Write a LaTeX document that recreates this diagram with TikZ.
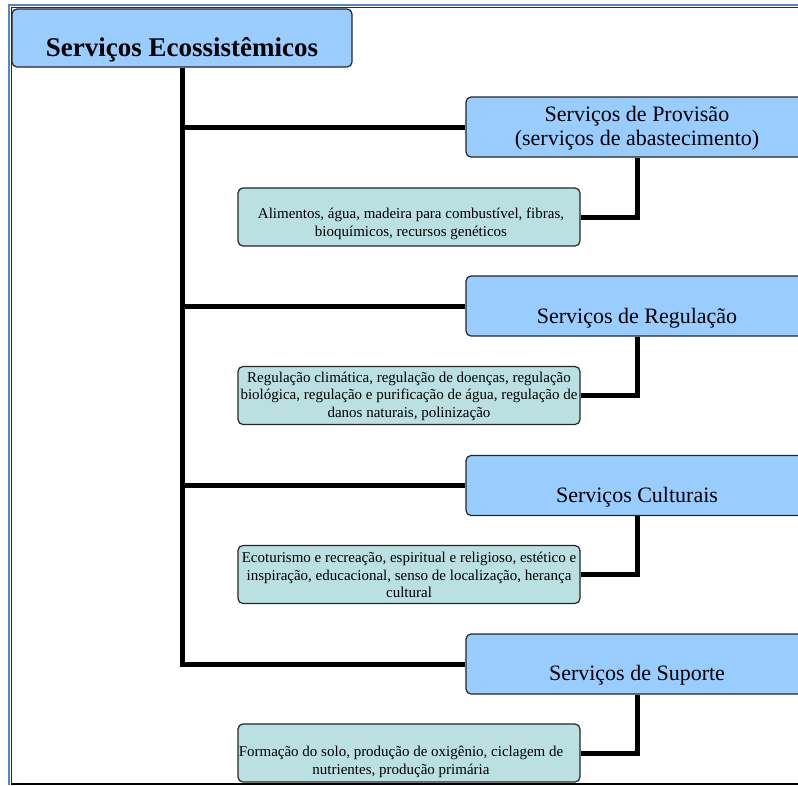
\documentclass[tikz,border=0pt]{standalone}
\usepackage{fontspec}
\setmainfont{Liberation Serif}
\definecolor{headblue}{RGB}{153,204,255}
\definecolor{itemgreen}{RGB}{186,224,226}
\definecolor{framblue}{RGB}{84,135,200}
\definecolor{framdark}{RGB}{30,45,80}

\begin{document}
\begin{tikzpicture}[x=1pt,y=-1pt,
  box/.style={draw=black!85,line width=1.2pt,rounded corners=5pt,inner sep=0pt},
  rootbox/.style={box,fill=headblue,minimum width=340pt,minimum height=58pt},
  headbox/.style={box,fill=headblue,minimum width=342pt,minimum height=60pt},
  itembox/.style={box,fill=itemgreen,minimum width=342pt,minimum height=58pt},
  roottext/.style={font=\fontsize{27}{30}\selectfont\bfseries,inner sep=0pt},
  headtext/.style={font=\fontsize{22}{24}\selectfont,align=center,inner sep=0pt},
  itemtext/.style={font=\fontsize{15}{17.5}\selectfont,align=center,inner sep=0pt},
  link/.style={line width=5pt,black}]
\useasboundingbox (0,0) rectangle (798,785);
\clip (0,0) rectangle (798,785);
\fill [white] (0,0) rectangle (798,785);
\draw [framblue, line width=2.5pt] (9,785) -- (9,5) -- (798,5);
\draw [framdark, line width=1pt] (11,785) -- (11,7) -- (798,7);
\draw [black, line width=1.2pt] (11,784) -- (798,784);

\node [rootbox] (eco) at (182,38) {};
\node [headbox] (prov) at (637,127) {};
\node [headbox] (reg) at (637,306) {};
\node [headbox] (cult) at (637,485.5) {};
\node [headbox] (sup) at (637,664) {};
\node [itembox] (alim) at (409,217) {};
\node [itembox] (clim) at (409,395.5) {};
\node [itembox] (tur) at (409,574.5) {};
\node [itembox] (solo) at (409,753) {};

\draw [link] (eco.south) -- (eco.south |- sup.west) -- (sup.west);
\foreach \b in {prov,reg,cult}
{
\draw [link] (eco.south |- \b.west) -- (\b.west);
}
\foreach \b/\g in {prov/alim,reg/clim,cult/tur,sup/solo}
{
\draw [link] (\b.south) |- (\g.east);
}

\node [roottext, anchor=base] (teco) at (182,56) {Serviços Ecossistêmicos};
\node [headtext] (tprov) at (637,128) {Serviços de Provisão\\(serviços de abastecimento)};
\node [headtext, anchor=base] (treg) at (637,323) {Serviços de Regulação};
\node [headtext, anchor=base] (tcult) at (637,502.5) {Serviços Culturais};
\node [headtext, anchor=base] (tsup) at (637,680.5) {Serviços de Suporte};
\node [itemtext] (talim) at (411,224) {Alimentos, água, madeira para combustível, fibras,\\bioquímicos, recursos genéticos};
\node [itemtext] (tclim) at (409,396) {Regulação climática, regulação de doenças, regulação\\biológica, regulação e purificação de água, regulação de\\danos naturais, polinização};
\node [itemtext] (ttur) at (409,575) {Ecoturismo e recreação, espiritual e religioso, estético e\\inspiração, educacional, senso de localização, herança\\cultural};
\node [itemtext] (tsolo) at (401,762) {Formação do solo, produção de oxigênio, ciclagem de\\nutrientes, produção primária};
\end{tikzpicture}
\end{document}
